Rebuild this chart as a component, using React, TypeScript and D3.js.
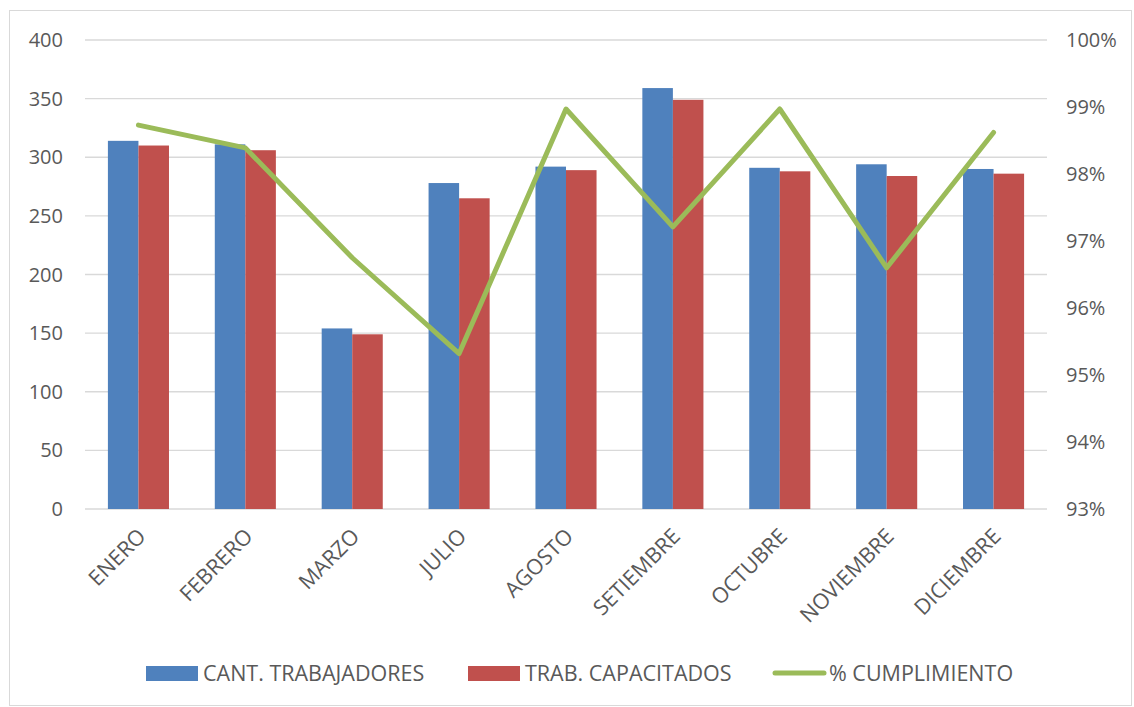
import React from "react";
import * as d3 from "d3";

const categories = ["ENERO", "FEBRERO", "MARZO", "JULIO", "AGOSTO", "SETIEMBRE", "OCTUBRE", "NOVIEMBRE", "DICIEMBRE"];
const cantTrabajadores = [314, 311, 154, 278, 292, 359, 291, 294, 290];
const trabCapacitados = [310, 306, 149, 265, 289, 349, 288, 284, 286];
const cumplimiento = [98.73, 98.39, 96.75, 95.32, 98.97, 97.21, 98.97, 96.6, 98.62];
const leftTicks = [0, 50, 100, 150, 200, 250, 300, 350, 400];
const rightTicks = [93, 94, 95, 96, 97, 98, 99, 100];

const W = 1134, H = 707;
const M = { left: 85, right: 1047, top: 40, bottom: 509 };
const FONT = "'Open Sans', sans-serif";
const TXT = "#595959";
const BLUE = "#4f81bd", RED = "#c0504d", GREEN = "#9bbb59";

export default function App() {
  const x = d3.scaleBand<string>().domain(categories).range([M.left, M.right]).paddingInner(0).paddingOuter(0);
  const y = d3.scaleLinear().domain([0, 400]).range([M.bottom, M.top]);
  const y2 = d3.scaleLinear().domain([93, 100]).range([M.bottom, M.top]);
  const bw = x.bandwidth();
  const barW = bw / 3.5;
  const sub = d3.scaleBand<string>().domain(["a", "b"]).range([0, barW * 2]);
  const line = d3.line<number>().x((_, i) => (x(categories[i]) as number) + bw / 2).y((d) => y2(d));

  return (
    <svg width={W} height={H} style={{ position: "absolute", left: 0, top: 0, background: "#fff" }} fontFamily={FONT}>
      <rect x={9.5} y={10.5} width={W - 12} height={H - 12} fill="#fff" stroke="#d9d9d9" />
      {leftTicks.map((t) => (
        <line key={"g" + t} x1={M.left} x2={M.right} y1={y(t)} y2={y(t)} stroke="#d9d9d9" strokeWidth={1.3} />
      ))}
      {leftTicks.map((t) => (
        <text key={"l" + t} x={63} y={y(t)} dy="0.35em" textAnchor="end" fontSize={20} fill={TXT}>{t}</text>
      ))}
      {rightTicks.map((t) => (
        <text key={"r" + t} x={1066} y={y2(t)} dy="0.35em" textAnchor="start" fontSize={20} fill={TXT}>{t + "%"}</text>
      ))}
      {categories.map((c, i) => {
        const x0 = (x(c) as number) + (bw - barW * 2) / 2;
        return (
          <g key={c}>
            <rect x={x0 + (sub("a") as number)} y={y(cantTrabajadores[i])} width={barW} height={M.bottom - y(cantTrabajadores[i])} fill={BLUE} />
            <rect x={x0 + (sub("b") as number)} y={y(trabCapacitados[i])} width={barW} height={M.bottom - y(trabCapacitados[i])} fill={RED} />
          </g>
        );
      })}
      <path d={line(cumplimiento) || ""} fill="none" stroke={GREEN} strokeWidth={5} strokeLinejoin="round" strokeLinecap="round" />
      {categories.map((c) => {
        const cx = (x(c) as number) + bw / 2 - 2;
        return (
          <text key={"t" + c} transform={`translate(${cx},${527}) rotate(-45)`} textAnchor="end" fontSize={21.5} fill={TXT} dy="0.7em">{c}</text>
        );
      })}
      <g fontSize={21.5} fill={TXT}>
        <rect x={146} y={666} width={52} height={15} fill={BLUE} />
        <text x={203} y={673} dy="0.35em">CANT. TRABAJADORES</text>
        <rect x={468} y={666} width={52} height={15} fill={RED} />
        <text x={525} y={673} dy="0.35em">TRAB. CAPACITADOS</text>
        <line x1={775} x2={824} y1={673} y2={673} stroke={GREEN} strokeWidth={5} strokeLinecap="round" />
        <text x={829} y={673} dy="0.35em">% CUMPLIMIENTO</text>
      </g>
    </svg>
  );
}
